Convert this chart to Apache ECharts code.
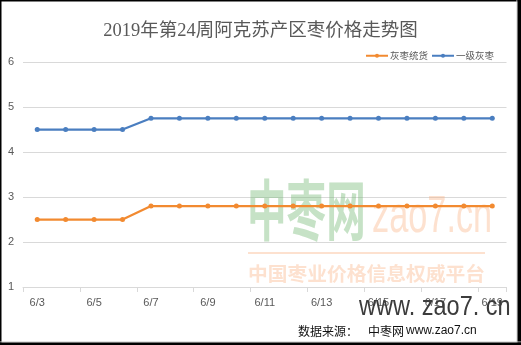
<!DOCTYPE html>
<html>
<head>
<meta charset="utf-8">
<script src="https://cdn.jsdelivr.net/npm/echarts@6/dist/echarts.min.js"></script>
<style>
  html, body { margin: 0; padding: 0; background: #fff; }
  #chart { width: 521px; height: 345px; }
</style>
</head>
<body>
<div id="chart"></div>
<script>
// Weekly jujube prices, Aksu producing area, 2019 week 24
const dates = ['6/3', '6/4', '6/5', '6/6', '6/7', '6/8', '6/9', '6/10', '6/11',
  '6/12', '6/13', '6/14', '6/15', '6/16', '6/17', '6/18', '6/19'];
const tonghuoName = '灰枣统货';
const tonghuo = [2.5, 2.5, 2.5, 2.5, 2.8, 2.8, 2.8, 2.8, 2.8, 2.8, 2.8, 2.8, 2.8, 2.8, 2.8, 2.8, 2.8];
const yijiName = '一级灰枣';
const yiji = [4.5, 4.5, 4.5, 4.5, 4.75, 4.75, 4.75, 4.75, 4.75, 4.75, 4.75, 4.75, 4.75, 4.75, 4.75, 4.75, 4.75];
const yMin = 1, yMax = 6, yStep = 1;

const ORANGE = '#F28A30';
const BLUE = '#4A7EC0';
const GRAY_TEXT = '#595959';
const GRID_LINE = '#d9d9d9';
const CJK = '"Noto Sans CJK SC"';
const PEACH = 'rgba(250,175,130,0.38)';

const chart = echarts.init(document.getElementById('chart'));

function lineSeries(name, data, color) {
  return {
    name, type: 'line', data,
    symbol: 'circle', symbolSize: 5,
    lineStyle: { color, width: 2.25 },
    itemStyle: { color },
    emphasis: { disabled: true },
    z: 3
  };
}

chart.setOption({
  animation: false,
  backgroundColor: '#fff',
  title: {
    text: '2019年第24周阿克苏产区枣价格走势图',
    left: 'center', top: 17,
    textStyle: {
      fontFamily: '"Liberation Serif", ' + CJK,
      fontSize: 18.5, fontWeight: 'normal', color: GRAY_TEXT
    }
  },
  legend: {
    data: [tonghuoName, yijiName],
    right: 22, top: 46,
    itemWidth: 22, itemHeight: 5, itemGap: 3,
    textStyle: { fontSize: 9.5, color: GRAY_TEXT, fontFamily: CJK, padding: [0, 0, 0, -3] }
  },
  grid: { left: 23, right: 14.5, top: 62, bottom: 58, containLabel: false },
  xAxis: {
    type: 'category', data: dates, boundaryGap: true,
    axisLine: { lineStyle: { color: GRID_LINE, width: 1 } },
    axisTick: { show: true, interval: 1, length: 5, lineStyle: { color: GRID_LINE } },
    axisLabel: { interval: 1, color: GRAY_TEXT, fontSize: 11, margin: 10, fontFamily: '"Liberation Sans"' }
  },
  yAxis: {
    type: 'value', min: yMin, max: yMax, interval: yStep,
    axisLine: { show: false }, axisTick: { show: false },
    axisLabel: { color: GRAY_TEXT, fontSize: 11, margin: 9, fontFamily: '"Liberation Sans"' },
    splitLine: { lineStyle: { color: GRID_LINE, width: 1 } }
  },
  series: [
    lineSeries(tonghuoName, tonghuo, ORANGE),
    lineSeries(yijiName, yiji, BLUE)
  ],
  graphic: [
    // site mark
    { type: 'text', x: 247, y: 210, scaleX: 0.6, z: 1, silent: true,
      style: { text: '中枣网', font: 'bold 66px ' + CJK, fill: 'rgba(120,185,120,0.42)', verticalAlign: 'middle' } },
    { type: 'text', x: 372, y: 218, scaleX: 0.66, z: 1, silent: true,
      style: { text: 'zao7.cn', font: '52px "Liberation Sans"', fill: PEACH, verticalAlign: 'middle' } },
    { type: 'rect', z: 1, silent: true, shape: { x: 248, y: 252, width: 237, height: 2 }, style: { fill: PEACH } },
    { type: 'text', x: 248, y: 274, scaleX: 1.04, z: 1, silent: true,
      style: { text: '中国枣业价格信息权威平台', font: 'bold 19px ' + CJK, fill: PEACH, verticalAlign: 'middle' } },
    { type: 'text', x: 359, y: 307, scaleX: 0.84, z: 5, silent: true,
      style: { text: 'www. zao7. cn', font: '28px "Liberation Sans"', fill: '#3c3c3c', verticalAlign: 'middle' } },
    // source note
    { type: 'text', x: 298, y: 331, silent: true,
      style: { text: '数据来源：', font: '12px ' + CJK, fill: '#111', verticalAlign: 'middle' } },
    { type: 'text', x: 368, y: 331, silent: true,
      style: { text: '中枣网', font: '12px ' + CJK, fill: '#111', verticalAlign: 'middle' } },
    { type: 'text', x: 406, y: 331, silent: true,
      style: { text: 'www.zao7.cn', font: '12px "Liberation Sans"', fill: '#111', verticalAlign: 'middle' } },
    // frame
    { type: 'rect', silent: true, shape: { x: 0, y: 0, width: 1.5, height: 345 }, style: { fill: '#000' } },
    { type: 'rect', silent: true, shape: { x: 0, y: 0, width: 521, height: 1.5 }, style: { fill: '#000' } },
    { type: 'rect', silent: true, shape: { x: 516.5, y: 0, width: 1, height: 345 }, style: { fill: '#d0d0d0' } },
    { type: 'rect', silent: true, shape: { x: 517.5, y: 0, width: 3.5, height: 345 }, style: { fill: '#000' } },
    { type: 'rect', silent: true, shape: { x: 0, y: 341.5, width: 521, height: 1 }, style: { fill: '#c8c8c8' } },
    { type: 'rect', silent: true, shape: { x: 0, y: 342.5, width: 521, height: 2.5 }, style: { fill: '#000' } }
  ]
});
</script>
</body>
</html>
